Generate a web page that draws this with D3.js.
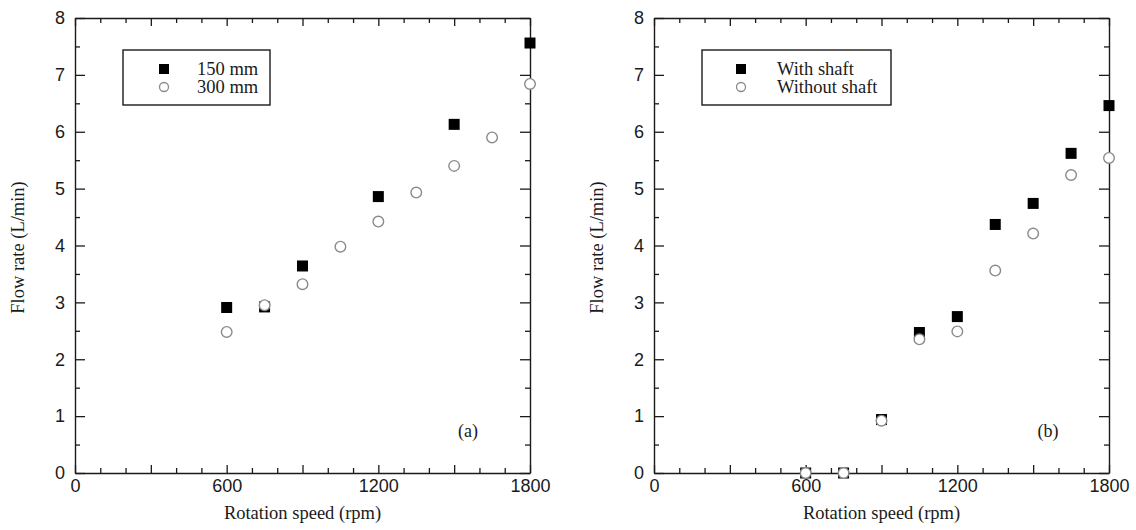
<!DOCTYPE html>
<html>
<head>
<meta charset="utf-8">
<script src="https://cdn.jsdelivr.net/npm/d3@7"></script>
<style>
  body { margin: 0; background: #fff; }
  svg { display: block; }
</style>
</head>
<body>
<div id="chart"></div>
<script>
// Panel (a): nozzle length comparison
const speedA150 = [600, 750, 900, 1200, 1500, 1800];
const flowA150 = [2.91, 2.92, 3.64, 4.86, 6.13, 7.56];
const speedA300 = [600, 750, 900, 1050, 1200, 1350, 1500, 1650, 1800];
const flowA300 = [2.48, 2.95, 3.32, 3.98, 4.42, 4.93, 5.40, 5.90, 6.84];

// Panel (b): with / without shaft
const speedShaft = [600, 750, 900, 1050, 1200, 1350, 1500, 1650, 1800];
const flowShaft = [0, 0, 0.94, 2.47, 2.75, 4.37, 4.74, 5.62, 6.46];
const speedNoShaft = [600, 750, 900, 1050, 1200, 1350, 1500, 1650, 1800];
const flowNoShaft = [0, 0, 0.92, 2.35, 2.49, 3.56, 4.21, 5.24, 5.54];

const xTickLabels = [0, 600, 1200, 1800];
const yTickLabels = [0, 1, 2, 3, 4, 5, 6, 7, 8];

const width = 1136, height = 530;
const serif = "'Liberation Serif', 'Times New Roman', serif";
const sans = "'Liberation Sans', Arial, sans-serif";
const ink = "#1a1a1a";

const svg = d3.select("#chart").append("svg")
    .attr("width", width)
    .attr("height", height);

const drawPanel = (opts) => {
    const { left, right, top, bottom, squares, circles, legend, tag, tagX, titleX } = opts;

    const x = d3.scaleLinear().domain([0, 1800]).range([left, right]);
    const y = d3.scaleLinear().domain([0, 8]).range([bottom, top]);

    const g = svg.append("g");

    const xMinor = d3.range(0, 1801, 100);
    const yMinor = d3.range(0, 8.01, 0.5);

    // bottom axis, ticks pointing inward
    const bAxis = g.append("g")
        .attr("transform", `translate(0,${bottom})`)
        .call(d3.axisBottom(x).tickValues(xMinor).tickSizeInner(-5).tickSizeOuter(0).tickPadding(6)
            .tickFormat(d => xTickLabels.includes(d) ? d : ""));
    bAxis.selectAll(".tick line").attr("y2", d => d % 300 === 0 ? -8 : -5);

    const tAxis = g.append("g")
        .attr("transform", `translate(0,${top})`)
        .call(d3.axisTop(x).tickValues(xMinor).tickSizeInner(-5).tickSizeOuter(0).tickFormat(""));
    tAxis.selectAll(".tick line").attr("y2", d => d % 300 === 0 ? 8 : 5);

    const lAxis = g.append("g")
        .attr("transform", `translate(${left},0)`)
        .call(d3.axisLeft(y).tickValues(yMinor).tickSizeInner(-5).tickSizeOuter(0).tickPadding(10)
            .tickFormat(d => yTickLabels.includes(d) ? d : ""));
    lAxis.selectAll(".tick line").attr("x2", d => Number.isInteger(d) ? 10 : 5);

    const rAxis = g.append("g")
        .attr("transform", `translate(${right},0)`)
        .call(d3.axisRight(y).tickValues(yMinor).tickSizeInner(-5).tickSizeOuter(0).tickFormat(""));
    rAxis.selectAll(".tick line").attr("x2", d => Number.isInteger(d) ? -10 : -5);

    g.selectAll(".domain").attr("stroke", ink).attr("stroke-width", 1.4);
    g.selectAll(".tick line").attr("stroke", ink).attr("stroke-width", 1.3);
    g.selectAll(".tick text")
        .attr("fill", ink)
        .style("font-family", sans)
        .style("font-size", "18px");

    // axis titles
    g.append("text")
        .attr("x", (left + right) / 2)
        .attr("y", 519)
        .attr("text-anchor", "middle")
        .style("font-family", serif)
        .style("font-size", "18.5px")
        .attr("fill", ink)
        .text("Rotation speed (rpm)");

    g.append("text")
        .attr("transform", `translate(${titleX},${(top + bottom) / 2 + 2}) rotate(-90)`)
        .attr("text-anchor", "middle")
        .attr("dominant-baseline", "central")
        .style("font-family", serif)
        .style("font-size", "18.5px")
        .attr("fill", ink)
        .text("Flow rate (L/min)");

    // filled squares
    const sq = 11;
    g.selectAll("rect.pt")
        .data(squares.speed.map((s, i) => ({ s, f: squares.flow[i] })))
        .enter()
        .append("rect")
        .attr("class", "pt")
        .attr("x", d => x(d.s) - sq / 2)
        .attr("y", d => y(d.f) - sq / 2)
        .attr("width", sq)
        .attr("height", sq)
        .attr("fill", "#000");

    // open circles on top
    g.selectAll("circle.pt")
        .data(circles.speed.map((s, i) => ({ s, f: circles.flow[i] })))
        .enter()
        .append("circle")
        .attr("class", "pt")
        .attr("cx", d => x(d.s))
        .attr("cy", d => y(d.f))
        .attr("r", 5.3)
        .attr("fill", "#fff")
        .attr("stroke", "#8a8a8a")
        .attr("stroke-width", 1.4);

    // legend
    const lg = g.append("g");
    lg.append("rect")
        .attr("x", legend.x)
        .attr("y", 50)
        .attr("width", legend.w)
        .attr("height", 55)
        .attr("fill", "#fff")
        .attr("stroke", ink)
        .attr("stroke-width", 1.4);
    lg.append("rect")
        .attr("x", legend.mx - 5)
        .attr("y", 69 - 5)
        .attr("width", 10)
        .attr("height", 10)
        .attr("fill", "#000");
    lg.append("circle")
        .attr("cx", legend.mx)
        .attr("cy", 87)
        .attr("r", 4.5)
        .attr("fill", "#fff")
        .attr("stroke", "#8a8a8a")
        .attr("stroke-width", 1.3);
    lg.selectAll("text")
        .data(legend.labels)
        .enter()
        .append("text")
        .attr("x", legend.tx)
        .attr("y", (d, i) => 75 + i * 18)
        .style("font-family", serif)
        .style("font-size", "18.5px")
        .attr("fill", ink)
        .text(d => d);

    // panel tag
    g.append("text")
        .attr("x", tagX)
        .attr("y", 437)
        .attr("text-anchor", "middle")
        .style("font-family", serif)
        .style("font-size", "18px")
        .attr("fill", ink)
        .text(tag);
};

drawPanel({
    left: 75, right: 530, top: 18, bottom: 473,
    squares: { speed: speedA150, flow: flowA150 },
    circles: { speed: speedA300, flow: flowA300 },
    legend: { x: 123, w: 147, mx: 164, tx: 197, labels: ["150 mm", "300 mm"] },
    tag: "(a)", tagX: 468, titleX: 18
});

drawPanel({
    left: 654, right: 1109, top: 18, bottom: 473,
    squares: { speed: speedShaft, flow: flowShaft },
    circles: { speed: speedNoShaft, flow: flowNoShaft },
    legend: { x: 702, w: 189, mx: 741, tx: 777, labels: ["With shaft", "Without shaft"] },
    tag: "(b)", tagX: 1048, titleX: 597
});
</script>
</body>
</html>
